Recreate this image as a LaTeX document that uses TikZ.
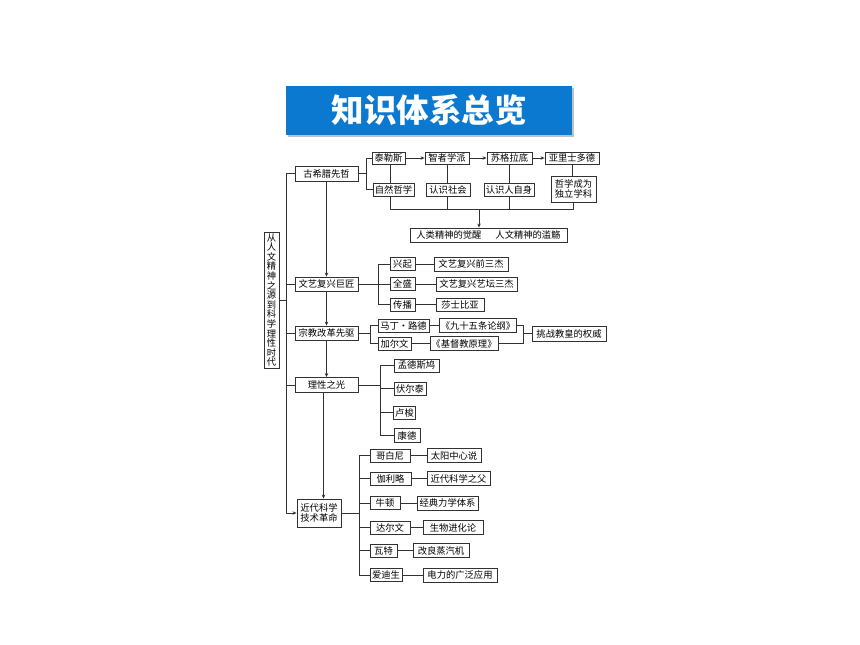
\documentclass[tikz,border=0pt]{standalone}
\usepackage{fontspec}
\setmainfont{Noto Sans CJK SC}
\usetikzlibrary{arrows.meta,shadows}
\definecolor{titleblue}{RGB}{10,121,207}
\definecolor{linegray}{RGB}{50,50,50}
\begin{document}
\begin{tikzpicture}[x=1pt,y=-1pt,
  bx/.style={draw=linegray, line width=0.85pt, inner sep=0pt, minimum height=13pt,
    font=\fontsize{9.3pt}{10.5pt}\selectfont, align=center, fill=white},
  bw/.style={minimum width=#1pt},
  bh/.style={minimum height=#1pt},
  ln/.style={draw=linegray, line width=0.85pt},
  arr/.style={ln, -{Stealth[length=4pt,width=3.5pt]}}]
\useasboundingbox (0,0) rectangle (860,645);

% title
\node[fill=titleblue, minimum width=286pt, minimum height=49pt, inner sep=0pt,
  drop shadow={shadow xshift=2pt, shadow yshift=-2pt, fill=black!35, opacity=0.7},
  text=white, font=\fontsize{32.5pt}{34pt}\selectfont\bfseries] (title) at (429,110.5) {知识体系总览};

% left vertical box
\node[bx, bw=15, bh=136, font=\fontsize{9.3pt}{9.6pt}\selectfont] (lb) at (271.5,300)
  {从\\人\\文\\精\\神\\之\\源\\到\\科\\学\\理\\性\\时\\代};

% main nodes
\node[bx, bw=63, bh=15] (gx) at (326.5,173.5) {古希腊先哲};
\node[bx, bw=63, bh=14] (wy) at (326.5,284) {文艺复兴巨匠};
\node[bx, bw=63, bh=14] (zj) at (326.5,333) {宗教改革先驱};
\node[bx, bw=63, bh=15] (lx) at (326.5,385) {理性之光};
\node[bx, bw=44, bh=28] (jd) at (319,513) {近代科学\\技术革命};

% Greek
\node[bx, bw=33, bh=12] (tl) at (388.5,158) {泰勒斯};
\node[bx, bw=44, bh=12] (zz) at (447,158) {智者学派};
\node[bx, bw=45, bh=12] (sg) at (509.5,158) {苏格拉底};
\node[bx, bw=54, bh=12] (yl) at (572,158) {亚里士多德};
\node[bx, bw=41, bh=13] (zr) at (393.5,189.5) {自然哲学};
\node[bx, bw=44, bh=13] (rs) at (448,189.5) {认识社会};
\node[bx, bw=50, bh=13] (rz) at (509,189.5) {认识人自身};
\node[bx, bw=45, bh=26] (zx) at (573.5,189) {哲学成为\\独立学科};
\node[bx, bw=157, bh=14] (rl) at (488.5,235) {人类精神的觉醒\hspace{1.5em}人文精神的滥觞};

% Renaissance
\node[bx, bw=25, bh=13] (xq) at (402.5,264) {兴起};
\node[bx, bw=25, bh=13] (qs) at (402.5,284) {全盛};
\node[bx, bw=25, bh=13] (cb) at (402.5,304.5) {传播};
\node[bx, bw=74, bh=14] (qj) at (471,264) {文艺复兴前三杰};
\node[bx, bw=81, bh=14] (yt) at (476.5,284) {文艺复兴艺坛三杰};
\node[bx, bw=48, bh=13] (ss) at (460,304.5) {莎士比亚};

% Reformation
\node[bx, bw=51, bh=13] (ml) at (403.5,325.5) {马丁·路德};
\node[bx, bw=33, bh=13] (je) at (394.5,343.5) {加尔文};
\node[bx, bw=77, bh=14] (js) at (478,325.5) {《九十五条论纲》};
\node[bx, bw=68, bh=14] (jy) at (464,343.5) {《基督教原理》};
\node[bx, bw=74, bh=15] (tz) at (569,333.5) {挑战教皇的权威};

% Reason
\node[bx, bw=45, bh=13] (mq) at (416.5,365.5) {孟德斯鸠};
\node[bx, bw=32, bh=13] (fe) at (410,388.5) {伏尔泰};
\node[bx, bw=22, bh=13] (ls) at (404.5,412.5) {卢梭};
\node[bx, bw=26, bh=14] (kd) at (407,435.5) {康德};

% Science
\node[bx, bw=40, bh=13] (gb) at (390,455.5) {哥白尼};
\node[bx, bw=54, bh=14] (ty) at (454,455.5) {太阳中心说};
\node[bx, bw=41, bh=13] (jl) at (390.5,478.5) {伽利略};
\node[bx, bw=63, bh=14] (jf) at (458.5,478.5) {近代科学之父};
\node[bx, bw=30, bh=13] (nd) at (385,503) {牛顿};
\node[bx, bw=61, bh=14] (jx) at (447.5,503) {经典力学体系};
\node[bx, bw=40, bh=13] (de) at (390,527.5) {达尔文};
\node[bx, bw=60, bh=14] (sw) at (453,527.5) {生物进化论};
\node[bx, bw=27, bh=13] (wt) at (383.5,550.5) {瓦特};
\node[bx, bw=56, bh=14] (gl) at (441,550.5) {改良蒸汽机};
\node[bx, bw=32, bh=13] (ad) at (386,575) {爱迪生};
\node[bx, bw=74, bh=14] (dl) at (460,575) {电力的广泛应用};

% spine
\coordinate (sp) at (286,0);
\draw[ln] (lb.east) -- (lb.east -| sp);
\draw[arr] (gx.west) -| (sp |- jd.west) -- (jd.west);
\draw[ln] (wy.west) -- (wy.west -| sp);
\draw[ln] (zj.west) -- (zj.west -| sp);
\draw[ln] (lx.west) -- (lx.west -| sp);

% main chain
\draw[arr] (gx.south) -- (wy.north);
\draw[arr] (wy.south) -- (zj.north);
\draw[arr] (zj.south) -- (lx.north);
\draw[arr] ([xshift=-3pt]lx.south) -- ([xshift=-3pt]lx.south |- jd.north);

% Greek connectors
\coordinate (b1) at (366,0);
\draw[ln] (gx.east) -- (gx.east -| b1);
\draw[ln] (tl.west) -| (b1 |- zr.west) -- (zr.west);
\draw[arr] (tl.east) -- (zz.west);
\draw[arr] (zz.east) -- (sg.west);
\draw[arr] (sg.east) -- (yl.west);
\draw[ln] ([xshift=1.5pt]tl.south) -- ([xshift=1.5pt]tl.south |- zr.north);
\draw[ln] (zz.south) -- (zz.south |- rs.north);
\draw[ln] (sg.south) -- (sg.south |- rz.north);
\draw[ln] (yl.south) -- (yl.south |- zx.north);
\coordinate (m) at (0,209);
\draw[ln] ([xshift=1.5pt]tl.south |- zr.south) -- ([xshift=1.5pt]tl.south |- m) -- (zx.south |- m) -- (zx.south);
\draw[ln] (zz.south |- rs.south) -- (zz.south |- m);
\draw[ln] (sg.south |- rz.south) -- (sg.south |- m);
\coordinate (ma) at (479,209);
\draw[arr] (ma) -- (ma |- rl.north);

% Renaissance connectors
\coordinate (b2) at (378,0);
\draw[ln] (wy.east) -- (qs.west);
\draw[ln] (xq.west) -| (b2 |- cb.west) -- (cb.west);
\draw[ln] (xq.east) -- (qj.west);
\draw[ln] (qs.east) -- (yt.west);
\draw[ln] (cb.east) -- (ss.west);

% Reformation connectors
\coordinate (b3) at (370,0);
\draw[ln] (zj.east) -- (zj.east -| b3);
\draw[ln] (ml.west) -| (b3 |- je.west) -- (je.west);
\draw[ln] (ml.east) -- (js.west);
\draw[ln] (je.east) -- (jy.west);
\coordinate (b4) at (523,0);
\draw[ln] (js.east) -| (b4 |- jy.east) -- (jy.east);
\draw[ln] (tz.west) -- (tz.west -| b4);

% Reason connectors
\coordinate (b5) at (380,0);
\draw[ln] (lx.east) -- (lx.east -| b5);
\draw[ln] (mq.west) -| (b5 |- kd.west) -- (kd.west);
\draw[ln] (fe.west) -- (fe.west -| b5);
\draw[ln] (ls.west) -- (ls.west -| b5);

% Science connectors
\coordinate (b6) at (359,0);
\draw[ln] (jd.east) -- (jd.east -| b6);
\draw[ln] (gb.west) -| (b6 |- ad.west) -- (ad.west);
\draw[ln] (jl.west) -- (jl.west -| b6);
\draw[ln] (nd.west) -- (nd.west -| b6);
\draw[ln] (de.west) -- (de.west -| b6);
\draw[ln] (wt.west) -- (wt.west -| b6);
\draw[ln] (gb.east) -- (ty.west);
\draw[ln] (jl.east) -- (jf.west);
\draw[ln] (nd.east) -- (jx.west);
\draw[ln] (de.east) -- (sw.west);
\draw[ln] (wt.east) -- (gl.west);
\draw[ln] (ad.east) -- (dl.west);
\end{tikzpicture}
\end{document}
